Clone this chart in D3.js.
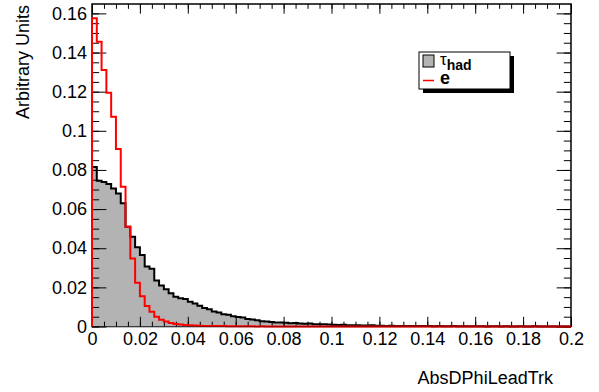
<!DOCTYPE html>
<html>
<head>
<meta charset="utf-8">
<script src="https://cdn.jsdelivr.net/npm/d3@7"></script>
<style>
  body { margin: 0; background: #fff; }
  text { font-family: "Liberation Sans", Arial, Helvetica, sans-serif; }
</style>
</head>
<body>
<svg id="chart" width="599" height="392"></svg>
<script>
// 直方图数据：100 个 bin，宽 0.002
const binEdges = d3.range(0, 101).map(i => i * 0.002);
const tauHad = [
  0.0815, 0.0745, 0.0738, 0.0728, 0.0705, 0.0680, 0.0630, 0.0510, 0.0459, 0.0405,
  0.0365, 0.0306, 0.0295, 0.0235, 0.0210, 0.0190, 0.0170, 0.0152, 0.0145, 0.0140,
  0.0127, 0.0118, 0.0106, 0.0095, 0.0088, 0.0077, 0.0071, 0.0063, 0.0060, 0.0052,
  0.0048, 0.0046, 0.0038, 0.0036, 0.0032, 0.0027, 0.0025, 0.0023, 0.0021, 0.0020,
  0.0019, 0.0017, 0.0018, 0.0015, 0.0014, 0.0015, 0.0012, 0.0011, 0.0012, 0.0010,
  0.0009, 0.0008, 0.0009, 0.0007, 0.0006, 0.0007, 0.0005, 0.0005, 0.0006, 0.0004,
  0.0004, 0.0003, 0.0004, 0.0003, 0.0002, 0.0003, 0.0002, 0.0002, 0.0003, 0.0002,
  0.0002, 0.0001, 0.0002, 0.0001, 0.0001, 0.0002, 0.0001, 0.0001, 0.0001, 0.0001,
  0.0001, 0.0001, 0.0000, 0.0001, 0.0001, 0.0000, 0.0001, 0.0000, 0.0000, 0.0001,
  0.0000, 0.0000, 0.0001, 0.0000, 0.0000, 0.0000, 0.0000, 0.0000, 0.0000, 0.0000
];
const electron = [
  0.1575, 0.1455, 0.1311, 0.1195, 0.1072, 0.0907, 0.0714, 0.0510, 0.0348, 0.0224,
  0.0155, 0.0105, 0.0076, 0.0050, 0.0034, 0.0025, 0.0018, 0.0013, 0.0010, 0.0008,
  0.0006, 0.0005, 0.0004, 0.0003, 0.0003, 0.0002, 0.0002, 0.0002, 0.0001, 0.0001,
  0.0001, 0.0001, 0.0001, 0.0001, 0.0000, 0.0001, 0.0000, 0.0000, 0.0000, 0.0000,
  0.0000, 0.0000, 0.0000, 0.0000, 0.0000, 0.0000, 0.0000, 0.0000, 0.0000, 0.0000,
  0.0000, 0.0000, 0.0000, 0.0000, 0.0000, 0.0000, 0.0000, 0.0000, 0.0000, 0.0000,
  0.0000, 0.0000, 0.0000, 0.0000, 0.0000, 0.0000, 0.0000, 0.0000, 0.0000, 0.0000,
  0.0000, 0.0000, 0.0000, 0.0000, 0.0000, 0.0000, 0.0000, 0.0000, 0.0000, 0.0000,
  0.0000, 0.0000, 0.0000, 0.0000, 0.0000, 0.0000, 0.0000, 0.0000, 0.0000, 0.0000,
  0.0000, 0.0000, 0.0000, 0.0000, 0.0000, 0.0000, 0.0000, 0.0000, 0.0000, 0.0000
];
const xTicks = [0, 0.02, 0.04, 0.06, 0.08, 0.1, 0.12, 0.14, 0.16, 0.18, 0.2];
const yTicks = [0, 0.02, 0.04, 0.06, 0.08, 0.1, 0.12, 0.14, 0.16];
const xTitle = "AbsDPhiLeadTrk";
const yTitle = "Arbitrary Units";

const frame = { left: 92, right: 571, top: 4, bottom: 326.5 };
const svg = d3.select("#chart");
const x = d3.scaleLinear().domain([0, 0.2]).range([frame.left, frame.right]);
const y = d3.scaleLinear().domain([0, 0.1648]).range([frame.bottom, frame.top]);
const fmt = d => String(+d.toFixed(3));
const H = frame.bottom - frame.top, W = frame.right - frame.left;

// 先画框
svg.append("rect")
  .attr("x", frame.left).attr("y", frame.top).attr("width", W).attr("height", H)
  .attr("fill", "none").attr("stroke", "#000").attr("stroke-width", 1.5);

// 把 bin 值转成阶梯点
function stepPoints(vals) {
  const pts = vals.map((v, i) => [binEdges[i], v]);
  pts.push([binEdges[vals.length], vals[vals.length - 1]]);
  return pts;
}
function outlinePoints(vals) {
  const pts = [[binEdges[0], 0]].concat(stepPoints(vals));
  pts.push([binEdges[vals.length], 0]);
  return pts;
}

const area = d3.area().curve(d3.curveStepAfter)
  .x(d => x(d[0])).y0(y(0)).y1(d => y(d[1]));
const line = d3.line().curve(d3.curveStepAfter)
  .x(d => x(d[0])).y(d => y(d[1]));

svg.append("path").attr("d", area(stepPoints(tauHad))).attr("fill", "#b3b3b3");
svg.append("path").attr("d", line(outlinePoints(tauHad)))
  .attr("fill", "none").attr("stroke", "#000").attr("stroke-width", 2);

// 坐标轴（刻度朝内）
const xMinor = d3.range(0, 41).map(i => i * 0.005);
const yMinor = d3.range(0, 33).map(i => i * 0.005);
const majX = 0.03 * H, majY = 0.03 * W;

function addAxis(axis, tx, ty) {
  const g = svg.append("g").attr("transform", `translate(${tx},${ty})`).call(axis);
  g.select(".domain").remove();
  g.selectAll("line").attr("stroke", "#000").attr("stroke-width", 1);
  g.selectAll("text").attr("font-size", 18).attr("fill", "#000")
    .style("font-family", '"Liberation Sans", Arial, sans-serif');
  return g;
}
addAxis(d3.axisBottom(x).tickValues(xTicks).tickSize(-majX).tickPadding(6).tickFormat(fmt), 0, frame.bottom);
addAxis(d3.axisBottom(x).tickValues(xMinor).tickSize(-majX / 2).tickFormat(""), 0, frame.bottom);
addAxis(d3.axisTop(x).tickValues(xTicks).tickSize(-majX).tickFormat(""), 0, frame.top);
addAxis(d3.axisTop(x).tickValues(xMinor).tickSize(-majX / 2).tickFormat(""), 0, frame.top);
addAxis(d3.axisLeft(y).tickValues(yTicks).tickSize(-majY).tickPadding(5).tickFormat(fmt), frame.left, 0);
addAxis(d3.axisLeft(y).tickValues(yMinor).tickSize(-majY / 2).tickFormat(""), frame.left, 0);
addAxis(d3.axisRight(y).tickValues(yTicks).tickSize(-majY).tickFormat(""), frame.right, 0);
addAxis(d3.axisRight(y).tickValues(yMinor).tickSize(-majY / 2).tickFormat(""), frame.right, 0);

// 电子直方图画在最上层，沿底边的部分呈暗红色
svg.append("path").attr("d", line(outlinePoints(electron)))
  .attr("fill", "none").attr("stroke", "#ff0000").attr("stroke-width", 2);
svg.append("line").attr("x1", frame.left).attr("x2", frame.right)
  .attr("y1", frame.bottom).attr("y2", frame.bottom)
  .attr("stroke", "#000").attr("stroke-width", 0.8).attr("stroke-opacity", 0.45);

// 轴标题
svg.append("text").attr("x", 553).attr("y", 384).attr("text-anchor", "end")
  .attr("font-size", 18).text(xTitle);
svg.append("text").attr("transform", "translate(29,5) rotate(-90)")
  .attr("text-anchor", "end").attr("font-size", 18).text(yTitle);

// 图例
const lg = svg.append("g");
lg.append("rect").attr("x", 423).attr("y", 56).attr("width", 91).attr("height", 37).attr("fill", "#000");
lg.append("rect").attr("x", 419).attr("y", 52).attr("width", 91).attr("height", 37)
  .attr("fill", "#fff").attr("stroke", "#000").attr("stroke-width", 1);
lg.append("rect").attr("x", 423).attr("y", 55).attr("width", 11).attr("height", 12)
  .attr("fill", "#b3b3b3").attr("stroke", "#000").attr("stroke-width", 1);
lg.append("line").attr("x1", 423).attr("x2", 434).attr("y1", 80.5).attr("y2", 80.5)
  .attr("stroke", "#ff0000").attr("stroke-width", 1.5);
const t1 = lg.append("text").attr("x", 440).attr("y", 65).attr("font-size", 17);
t1.append("tspan").text("τ");
t1.append("tspan").attr("font-size", 14).attr("font-weight", "bold").attr("dy", 5).text("had");
lg.append("text").attr("x", 440).attr("y", 84).attr("font-size", 18)
  .attr("font-weight", "bold").text("e");
</script>
</body>
</html>
